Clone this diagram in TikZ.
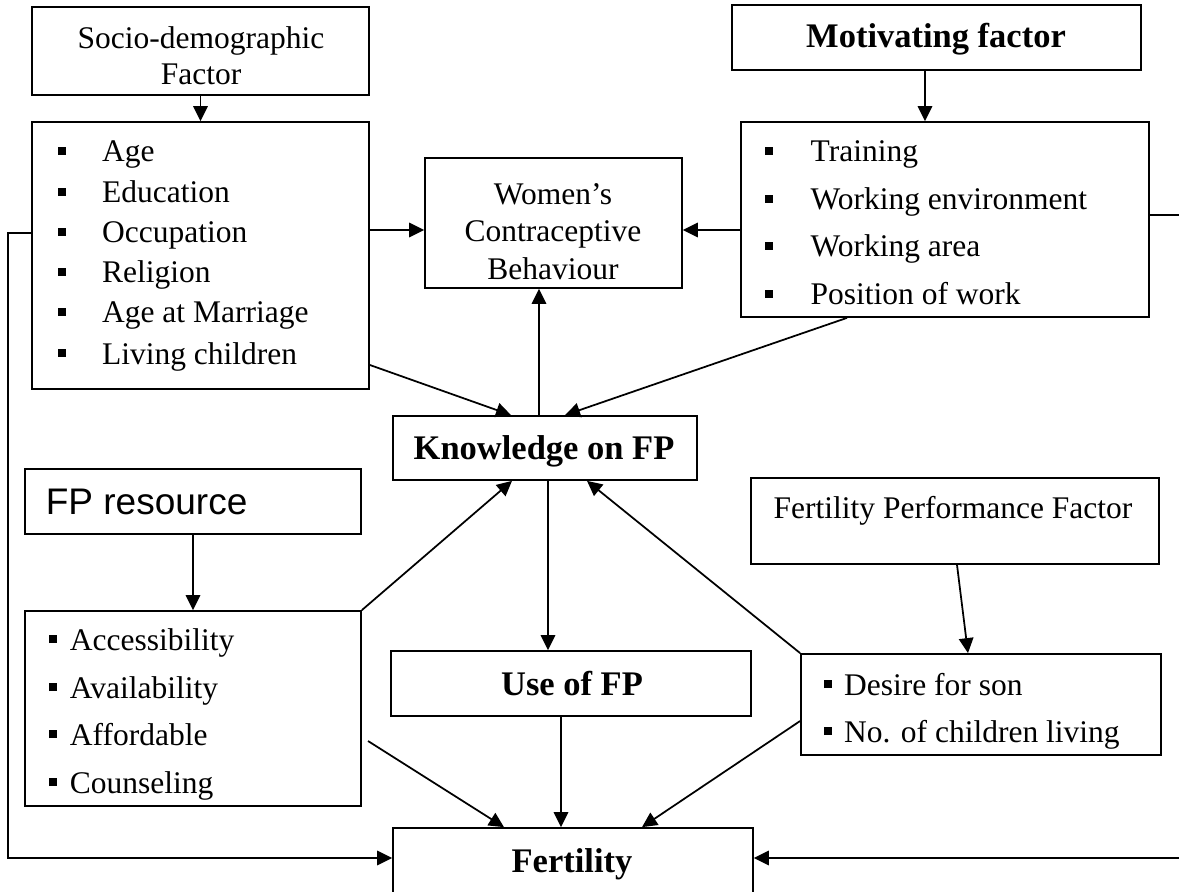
\documentclass[tikz,border=0pt]{standalone}
\usepackage{fontspec}
\setmainfont{Liberation Serif}
\newfontfamily\arialfont{Liberation Sans}
\usetikzlibrary{arrows.meta}
\newcommand{\txtsize}{\fontsize{12.6}{15}\selectfont}
\newcommand{\headsize}{\fontsize{13.8}{16.5}\selectfont\bfseries}
\newcommand{\bul}[1]{\rule[2.8pt]{3.3pt}{3.3pt}\hspace{#1}}
\tikzset{
  boxframe/.style 2 args={draw, inner sep=0pt, minimum width=#1*0.4pt, minimum height=#2*0.4pt},
  txt/.style={inner sep=0pt, font=\txtsize, align=center},
  head/.style={inner sep=0pt, font=\headsize, anchor=base},
  item/.style={inner sep=0pt, font=\txtsize, anchor=base west},
}
\begin{document}
\begin{tikzpicture}[>={Triangle[length=6pt,width=5.8pt]},x=0.4pt,y=-0.4pt,line join=miter,line width=0.7pt]
\useasboundingbox (0,0) rectangle (1179,892);
%%
  % Node: Socio
  \node[boxframe={337}{88}] (socio) at (200.5,51) {};
  \node[txt, anchor=north] (socio-t) at (201,25.5) {Socio-demographic\\[-0.6pt]Factor};
  % Node: SocioList
  \node[boxframe={337}{267}] (socL) at (200.5,255.5) {};
  \node[item] (socL-1) at (57,162) {\bul{14.4pt}Age};
  \node[item] (socL-2) at (57,203) {\bul{14.4pt}Education};
  \node[item] (socL-3) at (57,243) {\bul{14.4pt}Occupation};
  \node[item] (socL-4) at (57,283) {\bul{14.4pt}Religion};
  \node[item] (socL-5) at (57,323) {\bul{14.4pt}Age at Marriage};
  \node[item] (socL-6) at (57,364) {\bul{14.4pt}Living children};
  % Node: Motivating
  \node[boxframe={409}{65}] (motiv) at (936.5,37.5) {};
  \node[head] (motiv-t) at (936,48) {Motivating factor};
  % Node: MotivatingList
  \node[boxframe={408}{195}] (motL) at (945,219.5) {};
  \node[item] (motL-1) at (764,162) {\bul{15pt}Training};
  \node[item] (motL-2) at (764,210) {\bul{15pt}Working environment};
  \node[item] (motL-3) at (764,257) {\bul{15pt}Working area};
  \node[item] (motL-4) at (764,305) {\bul{15pt}Position of work};
  % Node: Women
  \node[boxframe={257}{130}] (women) at (553.5,223) {};
  \node[txt, anchor=north] (women-t) at (553,182.5) {Women’s\\Contraceptive\\Behaviour};
  % Node: Knowledge
  \node[boxframe={304}{64}] (know) at (545,448) {};
  \node[head] (know-t) at (544,459) {Knowledge on FP};
  % Node: FPResource
  \node[boxframe={336}{65}] (fpres) at (193,501.5) {};
  \node[inner sep=0pt, font=\arialfont\fontsize{14.8}{17}\selectfont, anchor=base west] (fpres-t) at (45,514) {FP resource};
  % Node: FPList
  \node[boxframe={336}{195}] (fpL) at (193,708.5) {};
  \node[item] (fpL-1) at (48,650) {\bul{5.1pt}Accessibility};
  \node[item] (fpL-2) at (48,698) {\bul{5.1pt}Availability};
  \node[item] (fpL-3) at (48,745) {\bul{5.1pt}Affordable};
  \node[item] (fpL-4) at (48,793) {\bul{5.1pt}Counseling};
  % Node: Use
  \node[boxframe={360}{65}] (use) at (571,683.5) {};
  \node[head] (use-t) at (572,695) {Use of FP};
  % Node: Fertility
  \node[boxframe={360}{72}] (fert) at (573,864) {};
  \node[head] (fert-t) at (572,872) {Fertility};
  % Node: FertFactor
  \node[boxframe={408}{86}] (ffac) at (955,521) {};
  \node[txt, anchor=base] (ffac-t) at (953,518) {Fertility Performance Factor};
  % Node: FertList
  \node[boxframe={360}{101}] (ffL) at (981,704.5) {};
  \node[item] (ffL-1) at (823,695) {\bul{4.8pt}Desire for son};
  \node[item] (ffL-2) at (823,742) {\bul{4.8pt}No. of children living};
%%
  % Edge: socio -> socL
  \draw [->] (socio.south) -- (socL.north);
  % Edge: socL -> women
  \draw [->] (0,230 -| socL.east) -- (0,230 -| women.west);
  % Edge: motiv -> motL
  \draw [->] (925,0 |- motiv.south) -- (925,0 |- motL.north);
  % Edge: motL -> women
  \draw [->] (0,230 -| motL.west) -- (0,230 -| women.east);
  % Edge: know -> women
  \draw [->] (539,0 |- know.north) -- (539,0 |- women.south);
  % Edge: socL -> know
  \draw [->] (0,365 -| socL.east) -- (511,0 |- know.north);
  % Edge: motL -> know
  \draw [->] (847,0 |- motL.south) -- (565,0 |- know.north);
  % Edge: know -> use
  \draw [->] (548,0 |- know.south) -- (548,0 |- use.north);
  % Edge: fpres -> fpL
  \draw [->] (fpres.south) -- (fpL.north);
  % Edge: fpL -> know
  \draw [->] (fpL.north east) -- (512,0 |- know.south);
  % Edge: ffac -> ffL
  \draw [->] (957,0 |- ffac.south) -- (968,0 |- ffL.north);
  % Edge: ffL -> know
  \draw [->] (ffL.north west) -- (587,0 |- know.south);
  % Edge: use -> fert
  \draw [->] (561,0 |- use.south) -- (561,0 |- fert.north);
  % Edge: fpL -> fert
  \coordinate (fpLout) at (368,741);
  \draw [->] (fpLout) -- (504,0 |- fert.north);
  % Edge: ffL -> fert
  \draw [->] (0,721 -| ffL.west) -- (642,0 |- fert.north);
  % Edge: socL -> fert
  \draw [->] (0,233 -| socL.west) -| (8,858) -- (0,858 -| fert.west);
  % Edge: motL -> fert
  \draw [->] (0,215 -| motL.east) -| (1183,858) -- (0,858 -| fert.east);
%
\end{tikzpicture}
\end{document}
